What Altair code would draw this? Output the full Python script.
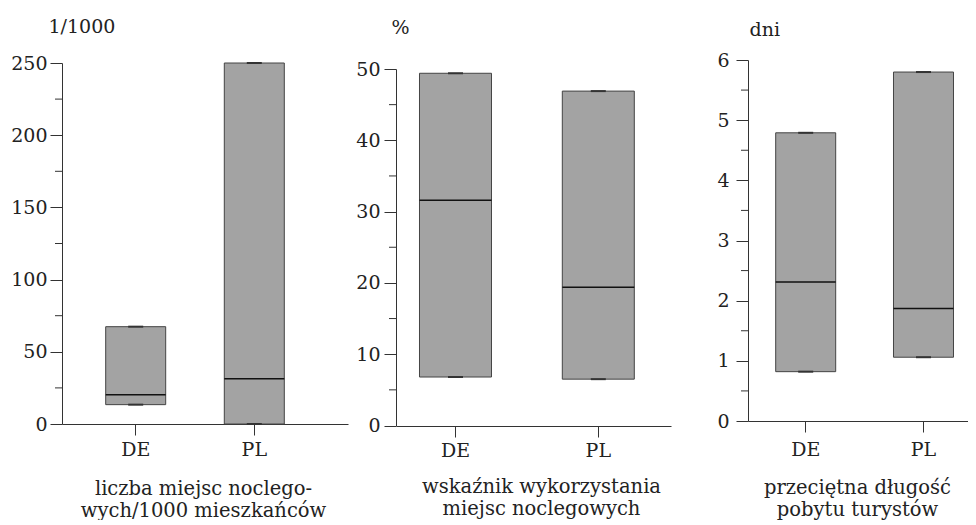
import altair as alt
import pandas as pd

categories = ["DE", "PL"]

# panel 1: liczba miejsc noclegowych / 1000 mieszkańców
p1_min = [13.4, 0.0]
p1_median = [20.3, 31.4]
p1_max = [67.4, 250.0]
p1_major = [0, 50, 100, 150, 200, 250]
p1_minor = [25, 75, 125, 175, 225]
p1_domain = [0, 250]
p1_unit = "1/1000"
p1_label = ["liczba miejsc noclego-", "wych/1000 mieszkańców"]

# panel 2: wskaźnik wykorzystania miejsc noclegowych
p2_min = [6.8, 6.5]
p2_median = [31.6, 19.4]
p2_max = [49.4, 46.9]
p2_major = [0, 10, 20, 30, 40, 50]
p2_minor = [5, 15, 25, 35, 45]
p2_domain = [0, 50]
p2_unit = "%"
p2_label = ["wskaźnik wykorzystania", "miejsc noclegowych"]

# panel 3: przeciętna długość pobytu turystów
p3_min = [0.82, 1.06]
p3_median = [2.31, 1.87]
p3_max = [4.79, 5.80]
p3_major = [0, 1, 2, 3, 4, 5, 6]
p3_minor = [0.5, 1.5, 2.5, 3.5, 4.5, 5.5]
p3_domain = [0, 6]
p3_unit = "dni"
p3_label = ["przeciętna długość", "pobytu turystów"]

FONT = "DejaVu Serif"
TEXT = "#222222"
LINE = "#333333"
FILL = "#a3a3a3"
FS = 19


def panel(mins, meds, maxs, major, minor, domain, unit, label, cfg):
    df = pd.DataFrame({"kraj": categories, "min": mins, "mediana": meds, "max": maxs})
    minor_df = pd.DataFrame({"v": minor})
    xscale = alt.Scale(domain=categories, range=[0, cfg["L"]],
                       paddingInner=cfg["pi"], paddingOuter=cfg["po"], align=cfg["al"])
    yscale = alt.Scale(domain=domain, range=[cfg["yb"], cfg["yt"]], nice=False, zero=True)
    xaxis = alt.Axis(title=label, labelAngle=0, tickSize=11, labelPadding=cfg["xlp"],
                     titleX=cfg["tx"], titleY=cfg["ty"], titleAlign="center",
                     titleBaseline="alphabetic", titleLineHeight=22, titleFontSize=19.5)
    yaxis = alt.Axis(title=unit, values=major, tickSize=12, labelPadding=cfg["ylp"],
                     titleAngle=0, titleAlign="left", titleBaseline="alphabetic",
                     titleX=cfg["ux"], titleY=cfg["uy"])
    xenc = alt.X("kraj:N", scale=xscale, sort=categories, axis=xaxis, title=label)
    base = alt.Chart(df)
    bars = base.mark_bar(size=cfg["bw"], fill=FILL, stroke="#444444", strokeWidth=1).encode(
        x=xenc,
        y=alt.Y("min:Q", scale=yscale, axis=yaxis, title=unit),
        y2="max:Q",
    )
    med = base.mark_tick(size=cfg["bw"], thickness=1.5, color="#111111", opacity=1).encode(
        x=xenc, y=alt.Y("mediana:Q", scale=yscale, axis=yaxis, title=unit))
    cap_lo = base.mark_tick(size=15, thickness=2, color=LINE, opacity=1).encode(
        x=xenc, y=alt.Y("min:Q", scale=yscale, axis=yaxis, title=unit))
    cap_hi = base.mark_tick(size=15, thickness=2, color=LINE, opacity=1).encode(
        x=xenc, y=alt.Y("max:Q", scale=yscale, axis=yaxis, title=unit))
    minor_r = alt.Chart(minor_df).mark_rule(color=LINE, strokeWidth=1).encode(
        y=alt.Y("v:Q", scale=yscale, axis=yaxis, title=unit), x=alt.value(-7), x2=alt.value(0))
    return alt.layer(bars, med, cap_lo, cap_hi, minor_r).properties(
        width=cfg["W"], height=cfg["H"])


c1 = panel(p1_min, p1_median, p1_max, p1_major, p1_minor, p1_domain, p1_unit, p1_label,
           dict(L=286, pi=0, po=0.2057, al=0.295, yb=364, yt=3, W=286, H=364,
                bw=60, xlp=5, ylp=3, tx=141, ty=70, ux=-14, uy=-27.5))
c2 = panel(p2_min, p2_median, p2_max, p2_major, p2_minor, p2_domain, p2_unit, p2_label,
           dict(L=275, pi=0.1667, po=0.0462, al=0, yb=365.5, yt=9, W=304, H=366,
                bw=72, xlp=4, ylp=4, tx=145, ty=66.5, ux=-5, uy=-27))
c3 = panel(p3_min, p3_median, p3_max, p3_major, p3_minor, p3_domain, p3_unit, p3_label,
           dict(L=220, pi=0.2444, po=0.056, al=1, yb=361, yt=0, W=220, H=361,
                bw=60, xlp=8, ylp=7, tx=109, ty=72, ux=1, uy=-25))

chart = alt.hconcat(c1, c2, c3, spacing=48, bounds="flush").properties(
    padding={"left": 2, "top": 9, "right": 0, "bottom": 0}
).configure_view(stroke=None).configure_axis(
    grid=False,
    domainColor=LINE,
    tickColor=LINE,
    domainWidth=1,
    tickWidth=1,
    labelFont=FONT,
    labelFontSize=FS,
    labelColor=TEXT,
    titleFont=FONT,
    titleFontSize=FS,
    titleFontWeight="normal",
    titleColor=TEXT,
)

chart.save("out.html", embed_options={"renderer": "svg", "actions": False})
